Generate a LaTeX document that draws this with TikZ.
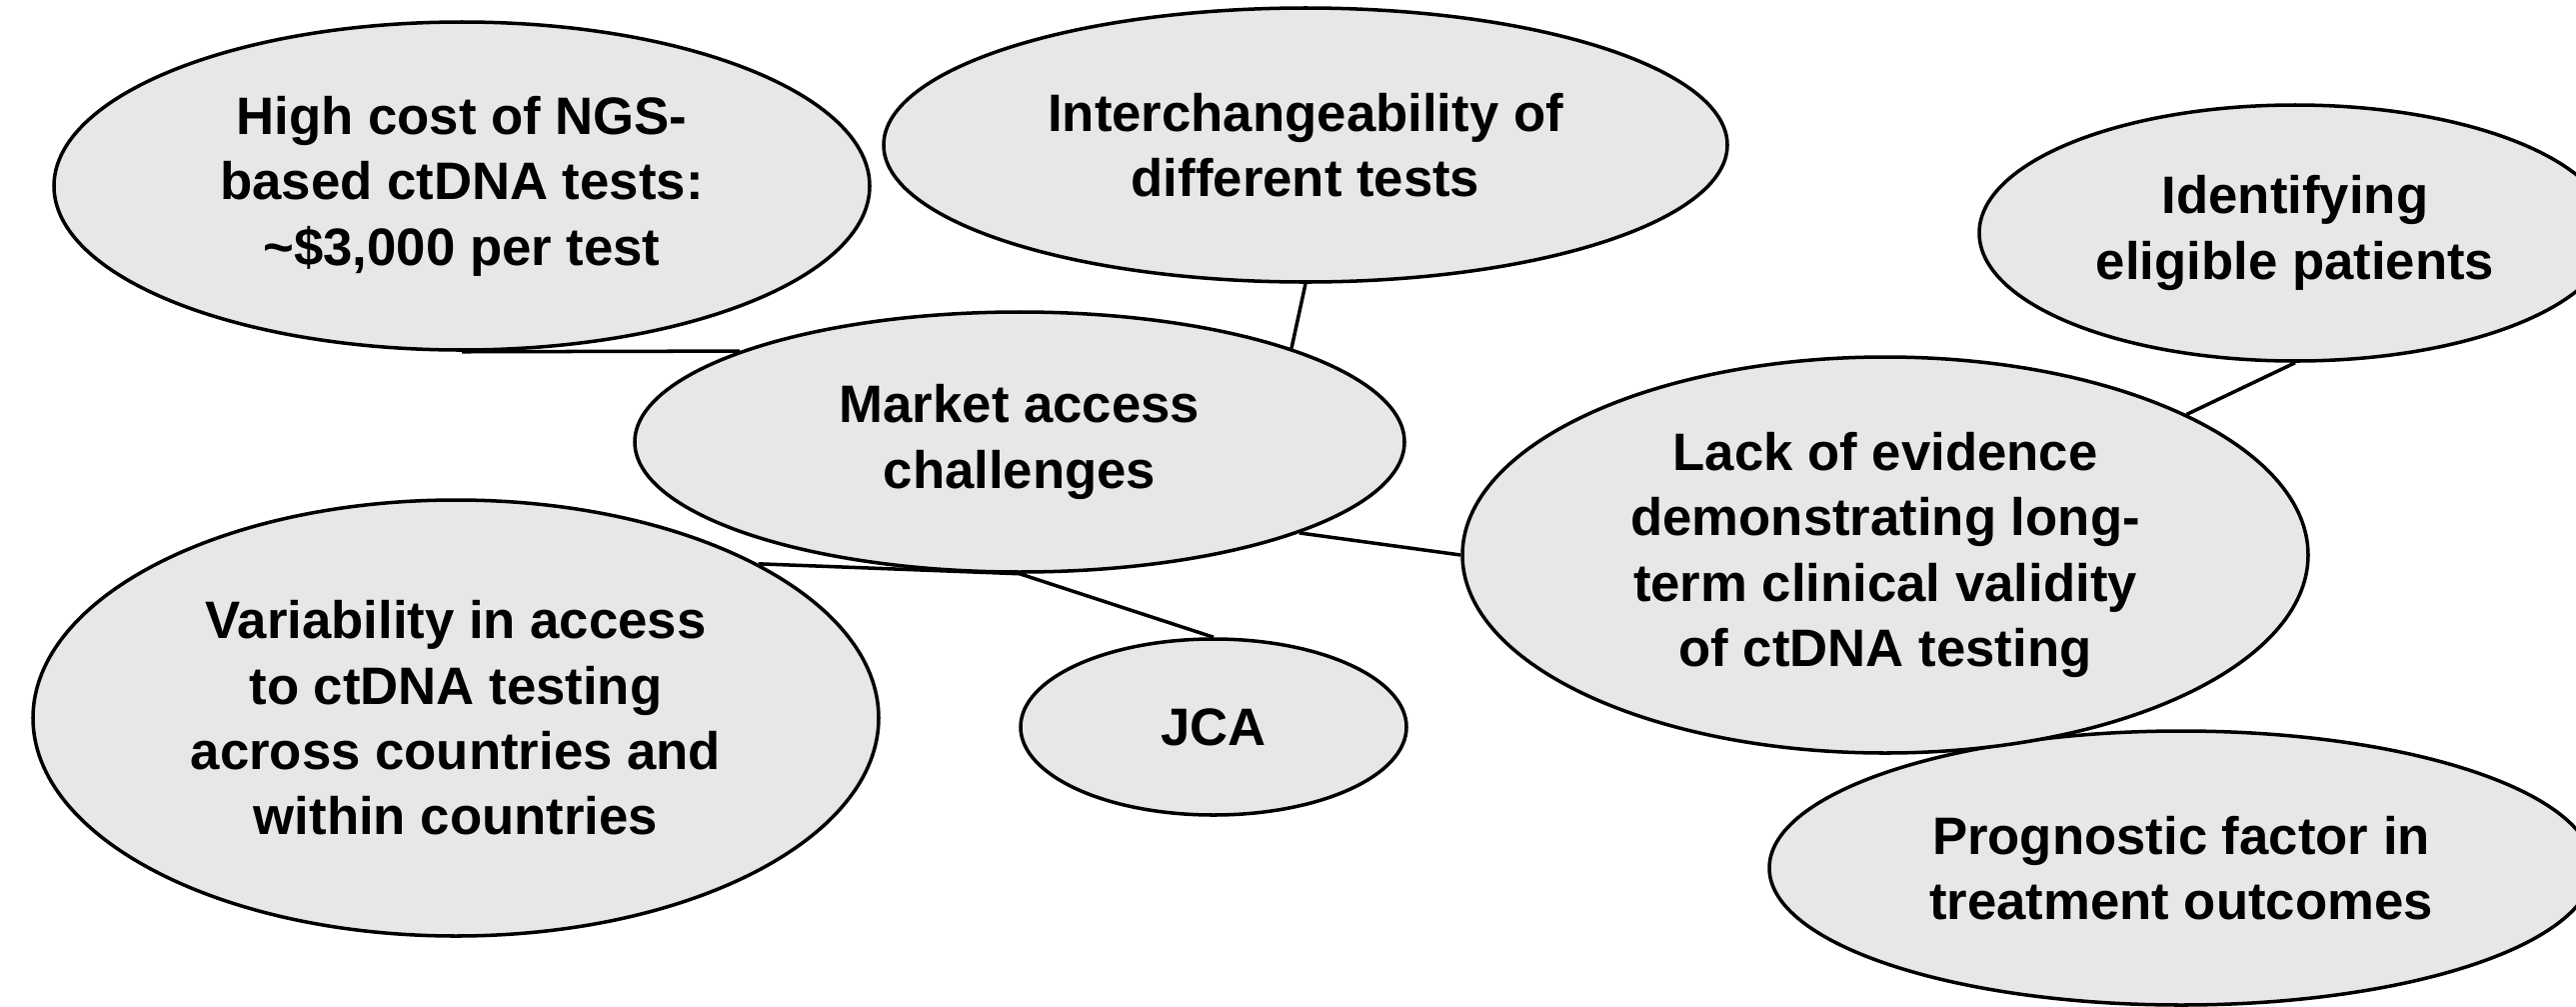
\documentclass[tikz,border=0pt]{standalone}
\usepackage{fontspec}
\setmainfont{Liberation Sans}
\usetikzlibrary{shapes.geometric}
\definecolor{BubbleGray}{RGB}{231,231,233}

\begin{document}
\begin{tikzpicture}[
    bubble/.style={ellipse, draw=black, line width=1pt, fill=BubbleGray,
        inner sep=0pt, align=center,
        font=\fontsize{15}{18.6}\selectfont\bfseries},
    link/.style={line width=1pt}
]

% page frame
\useasboundingbox (0,0) rectangle (25.77,10.06);

% the bubbles (prog first, lack overlaps it)
\node[bubble, minimum width=8.16cm, minimum height=3.28cm] (cost) at (4.62,8.20)
    {High cost of NGS-\\based ctDNA tests:\\\textasciitilde\$3,000 per test};
\node[bubble, minimum width=8.44cm, minimum height=2.74cm] (inter) at (13.06,8.61)
    {Interchangeability of\\different tests};
\node[bubble, minimum width=6.32cm, minimum height=2.56cm] (ident) at (22.96,7.73)
    {Identifying\\eligible patients};
\node[bubble, minimum width=7.70cm, minimum height=2.60cm] (market) at (10.20,5.64)
    {Market access\\challenges};
\node[bubble, minimum width=8.24cm, minimum height=2.74cm] (prog) at (21.82,1.38)
    {Prognostic factor in\\treatment outcomes};
\node[bubble, minimum width=8.46cm, minimum height=3.96cm] (lack) at (18.86,4.51)
    {Lack of evidence\\demonstrating long-\\term clinical validity\\of ctDNA testing};
\node[bubble, minimum width=8.46cm, minimum height=4.36cm] (vari) at (4.56,2.88)
    {Variability in access\\to ctDNA testing\\across countries and\\within countries};
\node[bubble, minimum width=3.86cm, minimum height=1.76cm] (jca) at (12.14,2.79)
    {JCA};

% connectors
\draw[link] (cost.south) -- (market.162);
\draw[link] (inter.south) -- (market.19);
\draw[link] (market.-18) -- (lack.west);
\draw[link] (market.south) -- (vari.27);
\draw[link] (market.south) -- (jca.north);
\draw[link] (ident.south) -- (lack.25);

\end{tikzpicture}
\end{document}
